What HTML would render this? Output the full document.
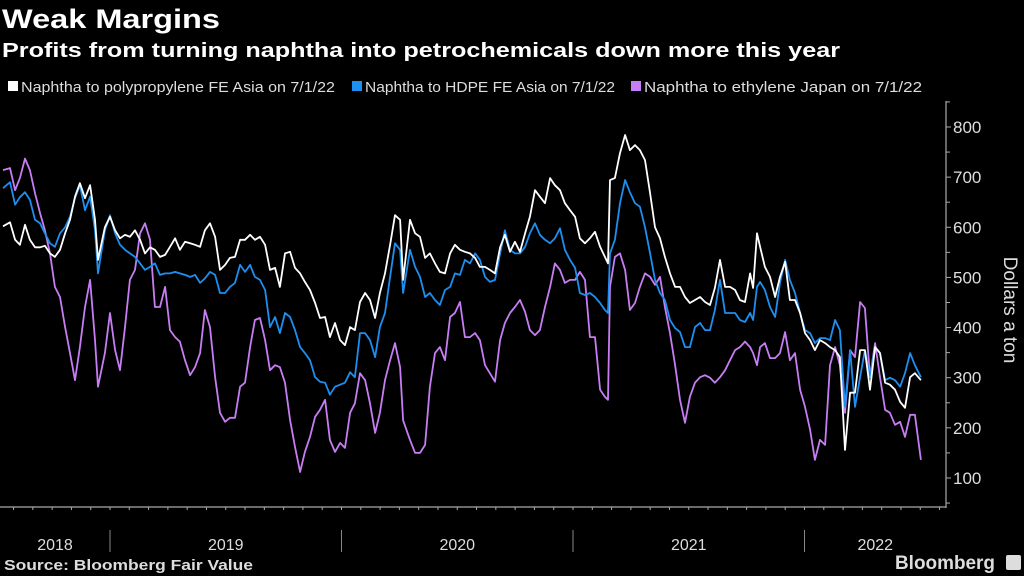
<!DOCTYPE html>
<html><head><meta charset="utf-8"><style>
html,body{margin:0;padding:0;background:#000;}
body{width:1024px;height:576px;overflow:hidden;font-family:"Liberation Sans",sans-serif;color:#fff;position:relative;}
svg{position:absolute;left:0;top:0;}
</style></head><body>
<svg id="chart" width="1024" height="576" viewBox="0 0 1024 576">
<text x="2" y="28" font-size="27" font-weight="bold" fill="#fff" textLength="218" lengthAdjust="spacingAndGlyphs" font-family="Liberation Sans, sans-serif">Weak Margins</text>
<text x="2" y="57" font-size="20" font-weight="bold" fill="#fff" textLength="838" lengthAdjust="spacingAndGlyphs" font-family="Liberation Sans, sans-serif">Profits from turning naphtha into petrochemicals down more this year</text>
<g font-size="15" fill="#ddd" font-family="Liberation Sans, sans-serif">
<g><rect x="8" y="81" width="10" height="10" fill="#ffffff"/><text x="21" y="92" fill="#ddd" textLength="314" lengthAdjust="spacingAndGlyphs">Naphtha to polypropylene FE Asia on 7/1/22</text></g>
<g><rect x="352" y="81" width="10" height="10" fill="#1d8ff0"/><text x="365" y="92" fill="#ddd" textLength="250" lengthAdjust="spacingAndGlyphs">Naphtha to HDPE FE Asia on 7/1/22</text></g>
<g><rect x="631" y="81" width="10" height="10" fill="#c77df3"/><text x="644" y="92" fill="#ddd" textLength="278" lengthAdjust="spacingAndGlyphs">Naphtha to ethylene Japan on 7/1/22</text></g>
</g>
<line x1="946" y1="101" x2="946" y2="508" stroke="#aaa" stroke-width="1.2"/>
<line x1="0" y1="507" x2="946" y2="507" stroke="#aaa" stroke-width="1.2"/>
<g id="yticks"></g>
<g id="xticks"></g>
<g id="series"></g>
<text transform="translate(1004,310) rotate(90)" text-anchor="middle" font-size="19" fill="#ddd" font-family="Liberation Sans, sans-serif">Dollars a ton</text>
<text x="4" y="570" font-size="15" font-weight="bold" fill="#ddd" textLength="249" lengthAdjust="spacingAndGlyphs" font-family="Liberation Sans, sans-serif">Source: Bloomberg Fair Value</text>
<text x="895" y="569" font-size="19" font-weight="bold" fill="#ddd" textLength="100" lengthAdjust="spacingAndGlyphs" font-family="Liberation Sans, sans-serif">Bloomberg</text>
<rect x="1006" y="555" width="15" height="15" rx="2" fill="#ddd"/>
</svg>
<script>
const dates=[2018.538,2018.568,2018.590,2018.611,2018.633,2018.654,2018.676,2018.698,2018.719,2018.741,2018.762,2018.784,2018.806,2018.827,2018.849,2018.870,2018.892,2018.914,2018.935,2018.948,2018.978,2019.000,
2019.022,2019.043,2019.065,2019.086,2019.108,2019.130,2019.151,2019.173,2019.194,2019.216,2019.238,2019.259,2019.281,2019.302,2019.324,2019.346,2019.367,2019.389,2019.410,2019.432,2019.454,2019.475,2019.497,2019.518,2019.540,2019.562,2019.583,2019.605,2019.626,2019.648,2019.670,2019.691,2019.713,2019.734,2019.756,2019.778,2019.799,2019.821,2019.842,2019.864,2019.886,2019.907,2019.929,2019.950,2019.972,2019.994,
2020.015,2020.037,2020.058,2020.080,2020.102,2020.123,2020.145,2020.166,2020.188,2020.210,2020.231,2020.253,2020.266,2020.296,2020.318,2020.339,2020.361,2020.382,2020.404,2020.425,2020.447,2020.469,2020.490,2020.512,2020.533,2020.555,2020.577,2020.598,2020.620,2020.641,2020.663,2020.685,2020.706,2020.728,2020.749,2020.771,2020.793,2020.814,2020.836,2020.857,2020.879,2020.901,2020.922,2020.944,2020.965,2020.987,
2021.009,2021.030,2021.052,2021.073,2021.095,2021.117,2021.138,2021.151,2021.160,2021.181,2021.203,2021.225,2021.246,2021.268,2021.289,2021.311,2021.333,2021.354,2021.376,2021.397,2021.419,2021.441,2021.462,2021.484,2021.505,2021.527,2021.549,2021.570,2021.592,2021.613,2021.635,2021.657,2021.678,2021.700,2021.721,2021.743,2021.765,2021.778,2021.795,2021.808,2021.829,2021.851,2021.873,2021.894,2021.916,2021.937,2021.959,2021.981,
2022.002,2022.024,2022.045,2022.067,2022.089,2022.110,2022.132,2022.153,2022.175,2022.197,2022.218,2022.240,2022.261,2022.283,2022.305,2022.326,2022.348,2022.369,2022.391,2022.413,2022.434,2022.456,2022.477,2022.503];
const polypropylene=[602,610,575,565,605,575,560,560,563,548,541,555,588,615,661,688,658,684,615,535,600,621,
594,578,585,581,594,575,548,560,555,541,545,561,578,555,571,568,565,561,594,608,581,515,525,539,541,575,575,585,575,581,565,515,519,481,548,551,519,508,491,475,449,419,421,381,409,375,
365,401,395,451,469,455,419,469,508,565,624,615,495,615,588,581,539,548,528,511,508,548,565,555,551,548,539,521,521,515,508,560,585,551,571,551,588,621,674,661,648,698,684,674,648,634,
621,578,568,578,591,561,541,528,694,698,748,784,754,764,754,734,668,600,578,541,508,481,481,461,449,455,461,451,445,479,535,481,481,475,455,451,508,479,588,561,521,501,461,501,531,455,455,429,
389,375,355,375,369,361,355,341,156,270,270,355,355,276,361,349,290,286,276,252,240,301,309,295];
const hdpe=[678,690,645,660,670,655,615,608,588,568,561,588,600,621,658,684,634,661,594,508,594,624,
588,565,555,548,541,528,515,521,528,505,508,508,511,508,505,501,505,489,498,511,505,469,469,481,489,525,511,525,501,495,475,401,421,389,429,421,395,361,349,335,301,292,290,266,282,286,
290,311,301,389,389,375,341,401,429,501,568,555,469,555,521,501,461,469,455,445,475,481,508,505,535,528,548,535,501,491,495,548,594,555,548,548,561,588,608,585,575,568,578,598,555,535,
519,469,465,469,461,449,435,429,548,575,648,694,670,648,641,600,548,495,469,455,415,399,391,361,361,401,409,395,395,435,495,429,429,429,415,411,429,415,481,491,475,441,421,489,535,495,469,429,
395,389,369,379,379,375,415,395,242,355,242,301,355,301,361,349,295,300,295,282,309,349,325,301];
const ethylene=[714,718,674,698,737,714,668,628,594,548,481,461,401,349,295,361,441,495,375,282,349,429,
355,315,401,495,515,588,608,575,441,441,481,395,381,372,335,305,321,349,435,401,301,230,212,220,220,282,290,361,415,419,375,315,325,321,290,215,162,112,152,182,222,236,256,176,152,170,
160,230,249,309,295,249,190,230,295,335,369,321,215,176,150,150,166,282,349,361,335,421,429,451,381,381,389,375,325,309,292,375,409,429,441,455,431,395,385,395,441,481,528,515,489,495,
495,511,495,381,381,276,262,256,481,541,548,515,435,449,481,508,501,485,501,441,389,325,256,210,262,290,301,305,300,290,301,315,335,355,361,372,361,349,325,361,369,339,339,349,391,335,349,276,
242,196,136,176,166,325,361,325,230,355,341,451,439,301,369,301,236,230,206,212,182,226,226,136];
const yTicks=[100,200,300,400,500,600,700,800];
const yearLabels=["2018","2019","2020","2021","2022"];
const yearStarts=[2018,2019,2020,2021,2022];

const NS="http://www.w3.org/2000/svg";
function xs(t){return 110+(t-2019)*231.5;}
function ys(v){return 127+(800-v)*0.5014;}
function mk(tag,attrs,parent){const e=document.createElementNS(NS,tag);for(const k in attrs)e.setAttribute(k,attrs[k]);parent.appendChild(e);return e;}

const yt=document.getElementById('yticks');
for(let v=50;v<=850;v+=50){
  const y=ys(v); if(y<100||y>508) continue;
  const tk=mk('line',{x1:946,x2:v%100===0?951:950,y1:y,y2:y,stroke:'#aaa','stroke-width':1},yt);
  
  
}
yTicks.forEach(v=>{
  const t=mk('text',{x:953,y:ys(v)+6,'font-size':17,fill:'#ddd','font-family':'Liberation Sans, sans-serif'},yt);
  t.textContent=String(v);
  
  
});

const xt=document.getElementById('xticks');
for(let m=0;m<60;m++){
  const t=2018.5+m/12; const x=xs(t); if(x<0||x>946) continue;
  const tk=mk('line',{x1:x,x2:x,y1:507,y2:510,stroke:'#aaa','stroke-width':1},xt);
  
  
}
yearStarts.forEach((yr,i)=>{
  const x0=Math.max(0,xs(yr)), x1=Math.min(946,xs(yr+1));
  const t=mk('text',{x:(x0+x1)/2,y:550,'text-anchor':'middle','font-size':16,fill:'#ddd','font-family':'Liberation Sans, sans-serif'},xt);
  t.textContent=yearLabels[i];
  
  
  if(i>0){
    const s=mk('line',{x1:xs(yr),x2:xs(yr),y1:530,y2:552,stroke:'#888','stroke-width':1},xt);
    
    
  }
});

const sg=document.getElementById('series');
function draw(vals,color,name){
  const d=vals.map((v,i)=>(i?'L':'M')+xs(dates[i]).toFixed(1)+' '+ys(v).toFixed(1)).join(' ');
  const p=mk('path',{d:d,fill:'none',stroke:color,'stroke-width':1.8,'stroke-linejoin':'round'},sg);
  
  
}
draw(ethylene,'#c77df3','line-ethylene-japan');
draw(hdpe,'#1d8ff0','line-hdpe-fe-asia');
draw(polypropylene,'#ffffff','line-polypropylene-fe-asia');
</script>
</body></html>
